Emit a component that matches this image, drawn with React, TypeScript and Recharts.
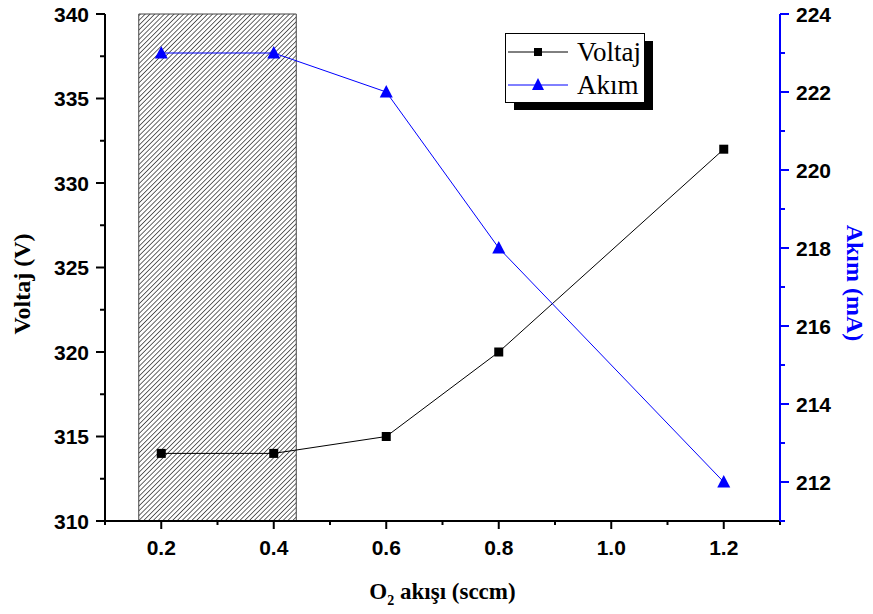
import React from "react";
import { LineChart, Line, XAxis, YAxis, ReferenceArea, Legend } from "recharts";

// O2 flow (sccm) vs discharge voltage and current
const flow = [0.2, 0.4, 0.6, 0.8, 1.2];
const voltaj = [314, 314, 315, 320, 332];
const akim = [223, 223, 222, 218, 212];

const xTicks = [0.1, 0.2, 0.3, 0.4, 0.5, 0.6, 0.7, 0.8, 0.9, 1.0, 1.1, 1.2, 1.3];
const leftTicks = [310, 312.5, 315, 317.5, 320, 322.5, 325, 327.5, 330, 332.5, 335, 337.5, 340];
const rightTicks = [211, 212, 213, 214, 215, 216, 217, 218, 219, 220, 221, 222, 223, 224];
const shaded = [0.16, 0.44];

const data = flow.map((f, i) => ({ flow: f, voltaj: voltaj[i], akim: akim[i] }));

const SANS = "'Liberation Sans', Arial, sans-serif";
const SERIF = "'Liberation Serif', 'Times New Roman', serif";
const BLUE = "#0000ff";
const TICK_FONT = 21;

const isMajorX = (v: number) => Math.round(v * 10) % 2 === 0;

const BottomTick = (p: any) => {
  const v = p.payload.value;
  const major = isMajorX(v);
  return (
    <g>
      <line x1={p.x} x2={p.x} y1={p.y} y2={p.y + (major ? 8 : 4)} stroke="#000" strokeWidth={2} />
      {major && (
        <text x={p.x} y={p.y + 34} textAnchor="middle" fontFamily={SANS} fontWeight="bold" fontSize={TICK_FONT} fill="#000">
          {v.toFixed(1)}
        </text>
      )}
    </g>
  );
};

const TopTick = (p: any) => {
  const major = isMajorX(p.payload.value);
  return <line x1={p.x} x2={p.x} y1={p.y} y2={p.y + (major ? 8 : 4)} stroke="#000" strokeWidth={2} />;
};

const LeftTick = (p: any) => {
  const v = p.payload.value;
  const major = v % 5 === 0;
  return (
    <g>
      <line x1={p.x - (major ? 9 : 5)} x2={p.x} y1={p.y} y2={p.y} stroke="#000" strokeWidth={2} />
      {major && (
        <text x={p.x - 16} y={p.y} dy="0.36em" textAnchor="end" fontFamily={SANS} fontWeight="bold" fontSize={TICK_FONT} fill="#000">
          {v}
        </text>
      )}
    </g>
  );
};

const RightTick = (p: any) => {
  const v = p.payload.value;
  const major = v % 2 === 0;
  return (
    <g>
      <line x1={p.x} x2={p.x + (major ? 9 : 5)} y1={p.y} y2={p.y} stroke={BLUE} strokeWidth={2} />
      {major && (
        <text x={p.x + 16} y={p.y} dy="0.36em" textAnchor="start" fontFamily={SANS} fontWeight="bold" fontSize={TICK_FONT} fill="#000">
          {v}
        </text>
      )}
    </g>
  );
};

const XTitle = ({ viewBox }: any) => (
  <text x={viewBox.x + viewBox.width / 2} y={viewBox.y + 78} textAnchor="middle" fontFamily={SERIF} fontWeight="bold" fontSize={23} fill="#000">
    <tspan>O</tspan>
    <tspan dy={6} fontSize={14}>2</tspan>
    <tspan dy={-6}> akışı (sccm)</tspan>
  </text>
);

const LeftTitle = ({ viewBox }: any) => {
  const cx = viewBox.x - 23;
  const cy = 284;
  return (
    <text x={cx} y={cy} transform={`rotate(-90 ${cx} ${cy})`} dy="0.35em" textAnchor="middle" fontFamily={SERIF} fontWeight="bold" fontSize={24} fill="#000">
      Voltaj (V)
    </text>
  );
};

const RightTitle = ({ viewBox }: any) => {
  const cx = viewBox.x + 75;
  const cy = 283;
  return (
    <text x={cx} y={cy} transform={`rotate(90 ${cx} ${cy})`} dy="0.35em" textAnchor="middle" fontFamily={SERIF} fontWeight="bold" fontSize={24} fill={BLUE}>
      Akım (mA)
    </text>
  );
};

const SquareDot = (p: any) => {
  if (p.cx == null || p.cy == null) return <g key={p.index} />;
  return <rect key={p.index} x={p.cx - 4.5} y={p.cy - 4.5} width={9} height={9} fill="#000" />;
};

const TriangleDot = (p: any) => {
  if (p.cx == null || p.cy == null) return <g key={p.index} />;
  const { cx, cy } = p;
  return <polygon key={p.index} points={`${cx},${cy - 7} ${cx - 6.5},${cy + 5.5} ${cx + 6.5},${cy + 5.5}`} fill={BLUE} />;
};

const LegendBox = () => (
  <svg width={152} height={82} style={{ display: "block" }}>
    <rect x={9} y={8} width={139} height={69} fill="#000" />
    <rect x={0.5} y={0.5} width={139} height={69} fill="#fff" stroke="#000" strokeWidth={1} />
    <line x1={3} x2={63} y1={19} y2={19} stroke="#000" strokeWidth={1} />
    <rect x={29} y={15} width={8} height={8} fill="#000" />
    <text x={72} y={19} dy="0.35em" fontFamily={SERIF} fontSize={27} fill="#000">Voltaj</text>
    <line x1={3} x2={63} y1={52} y2={52} stroke={BLUE} strokeWidth={1} />
    <polygon points="33,45 27,57 39,57" fill={BLUE} />
    <text x={72} y={52} dy="0.35em" fontFamily={SERIF} fontSize={27} fill="#000">Akım</text>
  </svg>
);

export default function App() {
  return (
    <div style={{ position: "absolute", left: 0, top: 0, background: "#fff" }}>
      <LineChart width={873} height={614} data={data} margin={{ top: 14, right: 33, bottom: 43, left: 45 }}>
        <defs>
          <pattern id="hatch" width={3.4} height={10} patternUnits="userSpaceOnUse" patternTransform="rotate(45)">
            <line x1={0} y1={0} x2={0} y2={10} stroke="#000" strokeWidth={1.2} />
          </pattern>
        </defs>
        <XAxis
          dataKey="flow"
          type="number"
          domain={[0.1, 1.3]}
          ticks={xTicks}
          interval={0}
          height={50}
          stroke="#000"
          strokeWidth={2}
          tickLine={false}
          tickSize={0}
          tickMargin={0}
          tick={BottomTick}
          label={<XTitle />}
        />
        <XAxis
          xAxisId="top"
          dataKey="flow"
          type="number"
          orientation="top"
          domain={[0.1, 1.3]}
          ticks={xTicks}
          interval={0}
          height={0}
          stroke="#000"
          strokeWidth={2}
          tickLine={false}
          tickSize={0}
          tickMargin={0}
          tick={TopTick}
        />
        <YAxis
          yAxisId="left"
          type="number"
          domain={[310, 340]}
          ticks={leftTicks}
          interval={0}
          width={60}
          stroke="#000"
          strokeWidth={2}
          tickLine={false}
          tickSize={0}
          tickMargin={0}
          tick={LeftTick}
          label={<LeftTitle />}
        />
        <YAxis
          yAxisId="right"
          orientation="right"
          type="number"
          domain={[211, 224]}
          ticks={rightTicks}
          interval={0}
          width={60}
          stroke={BLUE}
          strokeWidth={2}
          tickLine={false}
          tickSize={0}
          tickMargin={0}
          tick={RightTick}
          label={<RightTitle />}
        />
        <ReferenceArea
          x1={shaded[0]}
          x2={shaded[1]}
          yAxisId="left"
          fill="url(#hatch)"
          fillOpacity={1}
          stroke="#444"
          strokeWidth={1}
        />
        <Line
          yAxisId="left"
          dataKey="voltaj"
          name="Voltaj"
          type="linear"
          stroke="#000"
          strokeWidth={1}
          dot={SquareDot}
          activeDot={false}
          isAnimationActive={false}
        />
        <Line
          yAxisId="right"
          dataKey="akim"
          name="Akım"
          type="linear"
          stroke={BLUE}
          strokeWidth={1}
          dot={TriangleDot}
          activeDot={false}
          isAnimationActive={false}
        />
        <Legend
          layout="vertical"
          align="center"
          verticalAlign="middle"
          content={<LegendBox />}
          wrapperStyle={{ left: 505, top: 33, width: 152, height: 82 }}
        />
      </LineChart>
    </div>
  );
}
